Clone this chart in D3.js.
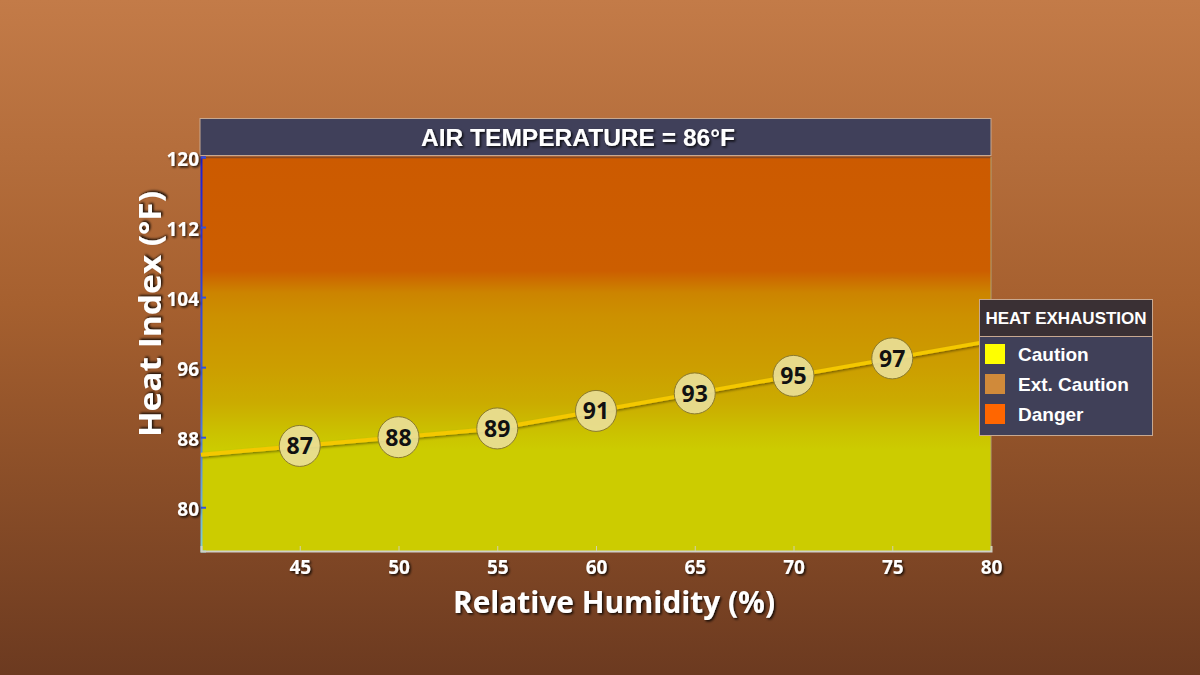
<!DOCTYPE html>
<html><head><meta charset="utf-8">
<script src="https://cdn.jsdelivr.net/npm/d3@7"></script>
<style>body{margin:0;padding:0;overflow:hidden}svg{display:block}</style>
</head><body>
<svg id="c" width="1200" height="675"></svg>
<script>
const humidity = [40, 45, 50, 55, 60, 65, 70, 75, 80];
const heatIndex = [86, 87, 88, 89, 91, 93, 95, 97, 99];
const labeledHumidity = [45, 50, 55, 60, 65, 70, 75];
const xTicks = [45, 50, 55, 60, 65, 70, 75, 80];
const yTicks = [80, 88, 96, 104, 112, 120];
const legendLabels = ["Caution", "Ext. Caution", "Danger"];
const legendColors = ["#ffff00", "#d08a3a", "#ff6600"];
const titleText = "AIR TEMPERATURE = 86\u00B0F";
const legendTitle = "HEAT EXHAUSTION";

const svg = d3.select("#c");
const W = 1200, H = 675;
const m = {l: 201, r: 991, t: 157, b: 551};
const x = d3.scaleLinear().domain([40, 80]).range([m.l, m.r]);
const y = d3.scaleLinear().domain([75, 120]).range([m.b, m.t]);

const defs = svg.append("defs");
const bg = defs.append("linearGradient").attr("id", "bg").attr("x1", 0).attr("y1", 0).attr("x2", 0).attr("y2", 1);
bg.append("stop").attr("offset", "0%").attr("stop-color", "#c37b48");
bg.append("stop").attr("offset", "45%").attr("stop-color", "#a6602f");
bg.append("stop").attr("offset", "100%").attr("stop-color", "#6c3a20");

const pg = defs.append("linearGradient").attr("id", "pg").attr("gradientUnits", "userSpaceOnUse")
  .attr("x1", 0).attr("x2", 0).attr("y1", y(120)).attr("y2", y(75));
const stops = [[120, "#cc5a00"], [107, "#cc5e00"], [104.5, "#cc8400"], [102, "#cc9000"], [96, "#cc9e00"], [92, "#cbab00"], [88.5, "#cbc200"], [86.5, "#cccc00"], [75, "#cccc00"]];
stops.forEach(s => pg.append("stop").attr("offset", ((120 - s[0]) / 45)).attr("stop-color", s[1]));

const sh = defs.append("filter").attr("id", "ts").attr("x", "-20%").attr("y", "-20%").attr("width", "140%").attr("height", "140%");
sh.append("feDropShadow").attr("dx", 1.5).attr("dy", 1.5).attr("stdDeviation", 0.8).attr("flood-color", "#000").attr("flood-opacity", 0.85);
const ls = defs.append("filter").attr("id", "ls").attr("x", "-5%").attr("y", "-50%").attr("width", "110%").attr("height", "200%");
ls.append("feDropShadow").attr("dx", 1).attr("dy", 1.5).attr("stdDeviation", 1).attr("flood-color", "#000").attr("flood-opacity", 0.4);

const ag = defs.append("linearGradient").attr("id", "ag").attr("gradientUnits", "userSpaceOnUse")
  .attr("x1", 0).attr("x2", 0).attr("y1", m.t).attr("y2", m.b);
ag.append("stop").attr("offset", "0%").attr("stop-color", "#2020d0");
ag.append("stop").attr("offset", "60%").attr("stop-color", "#4060e0");
ag.append("stop").attr("offset", "100%").attr("stop-color", "#80d0d0");

svg.append("rect").attr("width", W).attr("height", H).attr("fill", "url(#bg)");

// title bar
svg.append("rect").attr("x", 200).attr("y", 118.5).attr("width", 791).attr("height", 37)
  .attr("fill", "#40405a").attr("stroke", "#c8a890").attr("stroke-width", 1);
svg.append("text").attr("x", 578).attr("y", 137).attr("dy", "0.36em").attr("text-anchor", "middle")
  .attr("font-family", "Liberation Sans, Arial, sans-serif").attr("font-weight", "bold").attr("font-size", 24.5)
  .attr("fill", "#fff").attr("filter", "url(#ts)").attr("textLength", 314).attr("lengthAdjust", "spacingAndGlyphs").text(titleText);

// plot background
svg.append("rect").attr("x", m.l).attr("y", m.t).attr("width", m.r - m.l).attr("height", m.b - m.t).attr("fill", "url(#pg)");
svg.append("line").attr("x1", m.l).attr("x2", m.r).attr("y1", m.t + 0.5).attr("y2", m.t + 0.5).attr("stroke", "#8a4a20").attr("stroke-width", 1.5);
svg.append("line").attr("x1", m.r).attr("x2", m.r).attr("y1", m.t).attr("y2", m.b).attr("stroke", "#b0a070").attr("stroke-width", 1);

// y axis
const yAxis = svg.append("g").attr("transform", `translate(${m.l},0)`)
  .call(d3.axisLeft(y).tickValues(yTicks).tickSize(-5).tickPadding(3));
yAxis.select(".domain").attr("stroke", "url(#ag)").attr("stroke-width", 2);
yAxis.selectAll(".tick line").attr("stroke", "#3050e0").attr("stroke-width", 2);
yAxis.selectAll(".tick text").attr("fill", "#fff").attr("font-family", "Open Sans, sans-serif").attr("font-weight", "bold")
  .attr("font-size", 19).attr("filter", "url(#ts)").attr("x", -2).attr("dy", "0.45em");

// x axis
const xAxis = svg.append("g").attr("transform", `translate(0,${m.b})`)
  .call(d3.axisBottom(x).tickValues(xTicks).tickSize(-5).tickPadding(10));
xAxis.select(".domain").attr("stroke", "#d0d0c8").attr("stroke-width", 2);
xAxis.selectAll(".tick line").attr("stroke", "#d0d0b0").attr("stroke-width", 1);
xAxis.selectAll(".tick text").attr("fill", "#fff").attr("font-family", "Open Sans, sans-serif").attr("font-weight", "bold")
  .attr("font-size", 19).attr("filter", "url(#ts)");

// axis titles
svg.append("text").attr("x", 614).attr("y", 602).attr("dy", "0.35em").attr("text-anchor", "middle")
  .attr("font-family", "Open Sans, sans-serif").attr("font-weight", "bold").attr("font-size", 30)
  .attr("fill", "#fff").attr("filter", "url(#ts)").attr("textLength", 322).attr("lengthAdjust", "spacingAndGlyphs").text("Relative Humidity (%)");
svg.append("text").attr("transform", "translate(150,314) rotate(-90)").attr("dy", "0.35em").attr("text-anchor", "middle")
  .attr("font-family", "Open Sans, sans-serif").attr("font-weight", "bold").attr("font-size", 30)
  .attr("fill", "#fff").attr("filter", "url(#ts)").attr("textLength", 246).attr("lengthAdjust", "spacingAndGlyphs").text("Heat Index (\u00B0F)");

// line
const data = humidity.map((h, i) => ({h, v: heatIndex[i]}));
const line = d3.line().x(d => x(d.h)).y(d => y(d.v));
svg.append("path").datum(data).attr("d", line).attr("fill", "none").attr("stroke", "#f4c800")
  .attr("stroke-width", 4).attr("stroke-linejoin", "round").attr("filter", "url(#ls)");

// markers
const pts = data.filter(d => labeledHumidity.includes(d.h));
const g = svg.append("g").selectAll("g").data(pts).join("g").attr("transform", d => `translate(${x(d.h)},${y(d.v)})`);
g.append("circle").attr("r", 20.5).attr("fill", "#e8de94").attr("fill-opacity", 0.93).attr("stroke", "#8a7a30").attr("stroke-width", 1);
g.append("text").attr("text-anchor", "middle").attr("dy", "0.37em").attr("font-family", "Open Sans, sans-serif")
  .attr("font-weight", "bold").attr("font-size", 23).attr("fill", "#111").text(d => d.v);

// legend
const lx = 979, ly = 299;
svg.append("rect").attr("x", lx + 0.5).attr("y", ly + 0.5).attr("width", 173).attr("height", 136)
  .attr("fill", "#404058").attr("stroke", "#c8a890").attr("stroke-width", 1);
svg.append("rect").attr("x", lx + 1).attr("y", ly + 1).attr("width", 172).attr("height", 36).attr("fill", "#3a3034");
svg.append("line").attr("x1", lx).attr("x2", lx + 174).attr("y1", ly + 37.5).attr("y2", ly + 37.5).attr("stroke", "#c8a890");
svg.append("text").attr("x", lx + 87).attr("y", ly + 19).attr("dy", "0.36em").attr("text-anchor", "middle")
  .attr("font-family", "Liberation Sans, Arial, sans-serif").attr("font-weight", "bold").attr("font-size", 17)
  .attr("fill", "#fff").text(legendTitle);
const li = svg.append("g").selectAll("g").data(legendLabels).join("g")
  .attr("transform", (d, i) => `translate(${lx + 6},${ly + 45 + i * 30})`);
li.append("rect").attr("width", 20).attr("height", 20).attr("fill", (d, i) => legendColors[i]);
li.append("text").attr("x", 33).attr("y", 10).attr("dy", "0.36em").attr("font-family", "Liberation Sans, Arial, sans-serif")
  .attr("font-weight", "bold").attr("font-size", 19).attr("fill", "#fff").text(d => d);
</script>
</body></html>
